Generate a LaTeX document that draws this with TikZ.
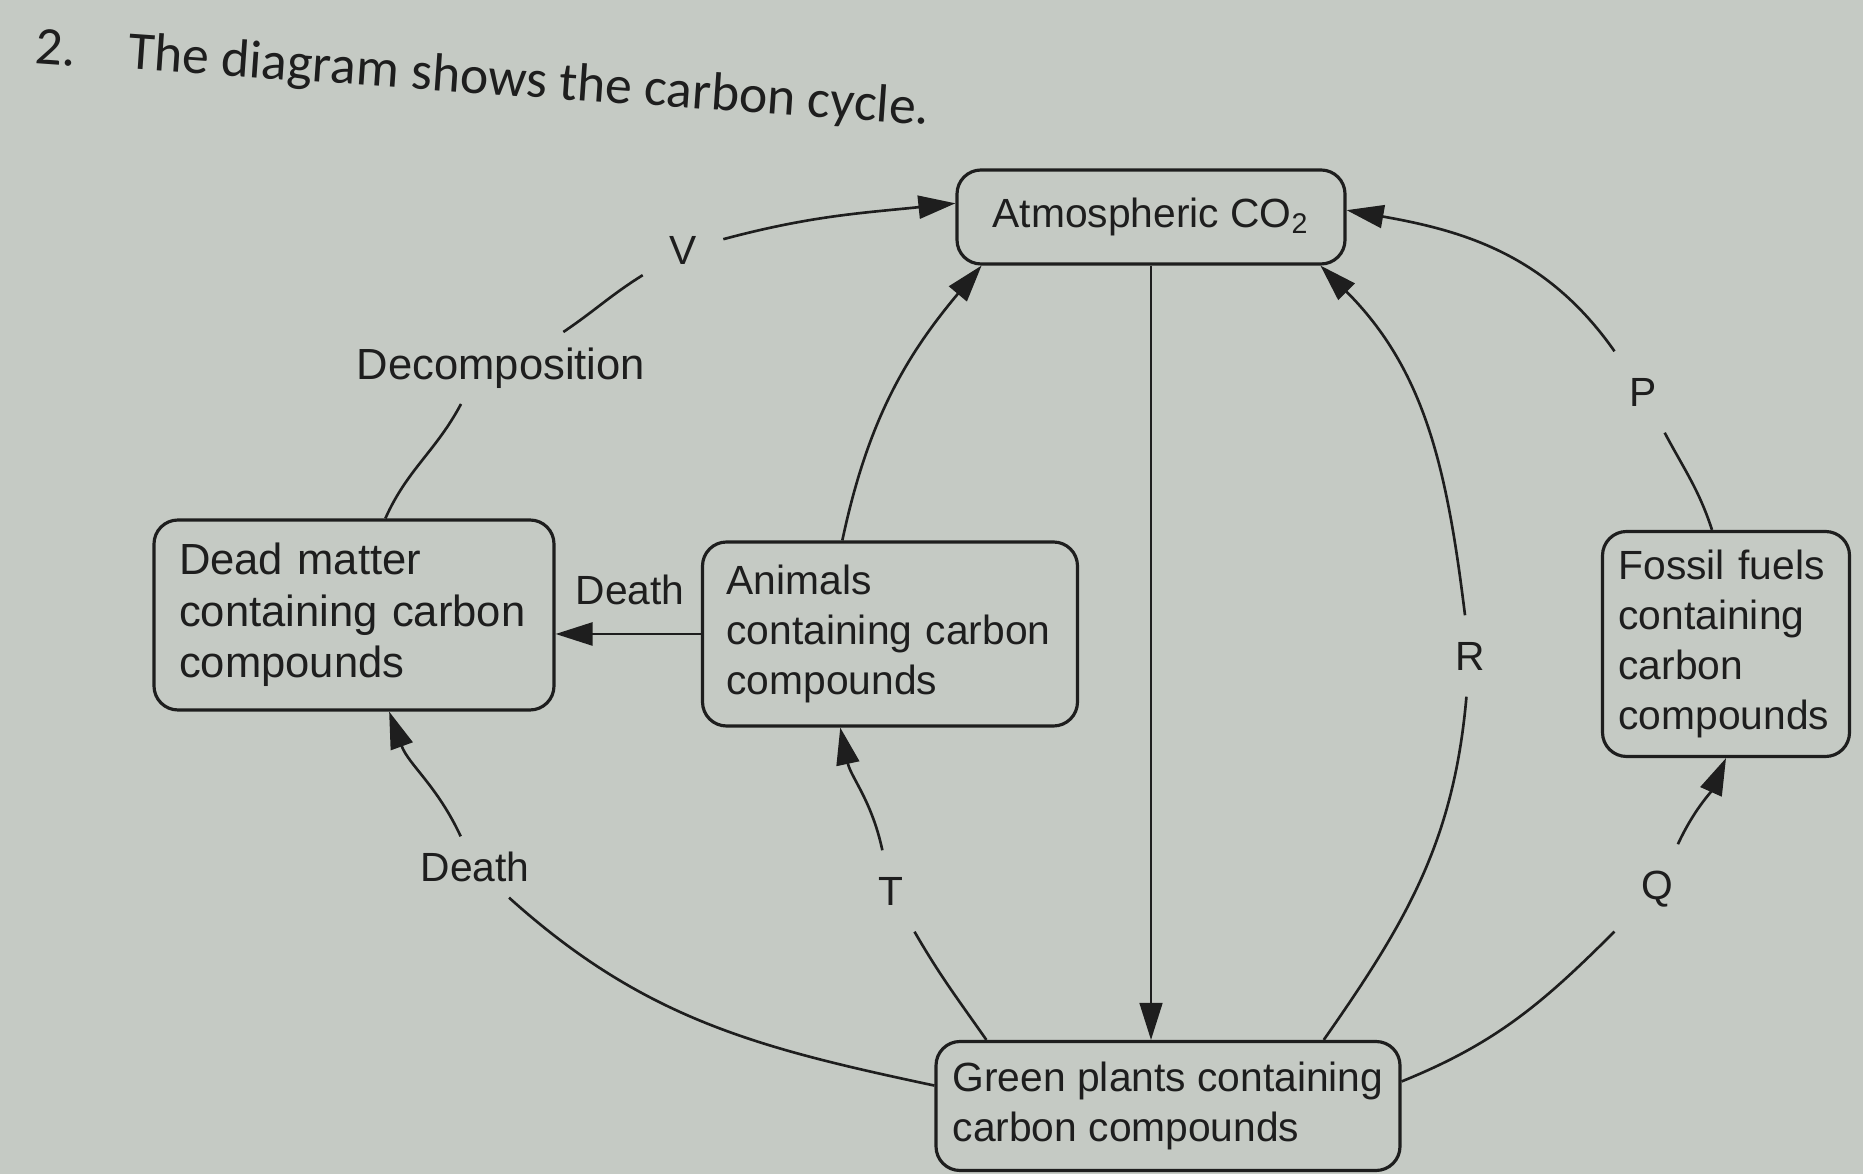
\documentclass[tikz,border=0pt]{standalone}
\usepackage{fontspec}
\setmainfont{Liberation Sans}
\newfontfamily\titlefont{Carlito}
\usetikzlibrary{arrows.meta}
\definecolor{paper}{RGB}{197,202,196}
\definecolor{ink}{RGB}{30,30,30}
\newcommand{\diagfont}{\fontsize{11.6}{14.3}\selectfont}
\newcommand{\bigdiagfont}{\fontsize{12.4}{14.6}\selectfont}
\newcommand{\qfont}{\titlefont\fontsize{15.3}{18}\selectfont}

\begin{document}
\begin{tikzpicture}[
  x=0.1mm, y=0.1mm,
  box/.style={draw=ink, rounded corners=2.4mm, line width=0.9pt, align=left, inner ysep=0pt, font=\diagfont, text=ink},
  word/.style={inner sep=1.5mm, font=\diagfont, text=ink},
  letter/.style={inner sep=2.6mm, font=\diagfont, text=ink},
  link/.style={draw=ink, line width=0.75pt},
  arrow/.style={link, -{Triangle[length=3.7mm,width=2.3mm]}}
]
\fill[paper] (0,0) rectangle (1863,1174);
\useasboundingbox (0,0) rectangle (1863,1174);

\node (num) [font=\qfont, text=ink, rotate=-4] at (56,1126) {2.};
\node (title) [font=\qfont, text=ink, anchor=west, rotate=-4] at (116,1120) {The diagram shows the carbon cycle.};

\node (co2) [box, align=center, inner xsep=0pt, minimum width=38.8mm, minimum height=9.4mm] at (1151,957) {Atmospheric CO\textsubscript{2}};
\node (dead) [box, font=\bigdiagfont, text width=35mm, inner xsep=2.5mm, minimum height=19mm] at (354,559) {Dead matter\\containing carbon\\compounds};
\node (animals) [box, text width=32.7mm, inner xsep=2.4mm, minimum height=18.4mm] at (890,540) {Animals\\containing carbon\\compounds};
\node (fossil) [box, text width=21.5mm, inner xsep=1.6mm, minimum height=22.5mm] at (1726,530) {Fossil fuels\\containing\\carbon\\compounds};
\node (green) [box, inner xsep=0pt, minimum width=46.4mm, minimum height=12.9mm] at (1168,68) {Green plants containing\\carbon compounds};

\node (decomp) [word, font=\bigdiagfont] at (501,806) {Decomposition};
\node (vlab) [letter] at (683,924) {V};
\node (deatha) [word] at (630,584) {Death};
\node (deathb) [word] at (475,307) {Death};
\node (tlab) [letter] at (891,283) {T};
\node (rlab) [letter] at (1470,518) {R};
\node (plab) [letter] at (1643,782) {P};
\node (qlab) [letter] at (1657,285) {Q};

\draw [link] (dead.72) to[out=66,in=242] (decomp.222);
\draw [link] (decomp.30) to[out=34,in=212] (vlab);
\draw [arrow] (vlab) to[out=15,in=186] (co2.176);

\draw [arrow] (animals.117) to[out=78,in=230] (co2.196);
\draw [arrow, line width=0.45pt] (co2.south) -- (co2.south |- green.north);
\draw [arrow] (animals.west) -- (animals.west -| dead.east);

\draw [link] (green.175) to[out=168,in=-42] (deathb);
\draw [arrow] (deathb) to[out=115,in=-70] (dead);

\draw [link] (green.160) to[out=125,in=-60] (tlab);
\draw [arrow] (tlab) to[out=102,in=-78] (animals.242);

\draw [link] (green.23) to[out=55,in=-95] (rlab);
\draw [arrow] (rlab) to[out=97,in=-45] (co2.-16);

\draw [link] (fossil.97) to[out=108,in=-62] (plab);
\draw [arrow] (plab) to[out=125,in=-10] (co2.2);

\draw [link] (green.6) to[out=22,in=225] (qlab);
\draw [arrow] (qlab) to[out=65,in=-114] (fossil.south);

\end{tikzpicture}
\end{document}
